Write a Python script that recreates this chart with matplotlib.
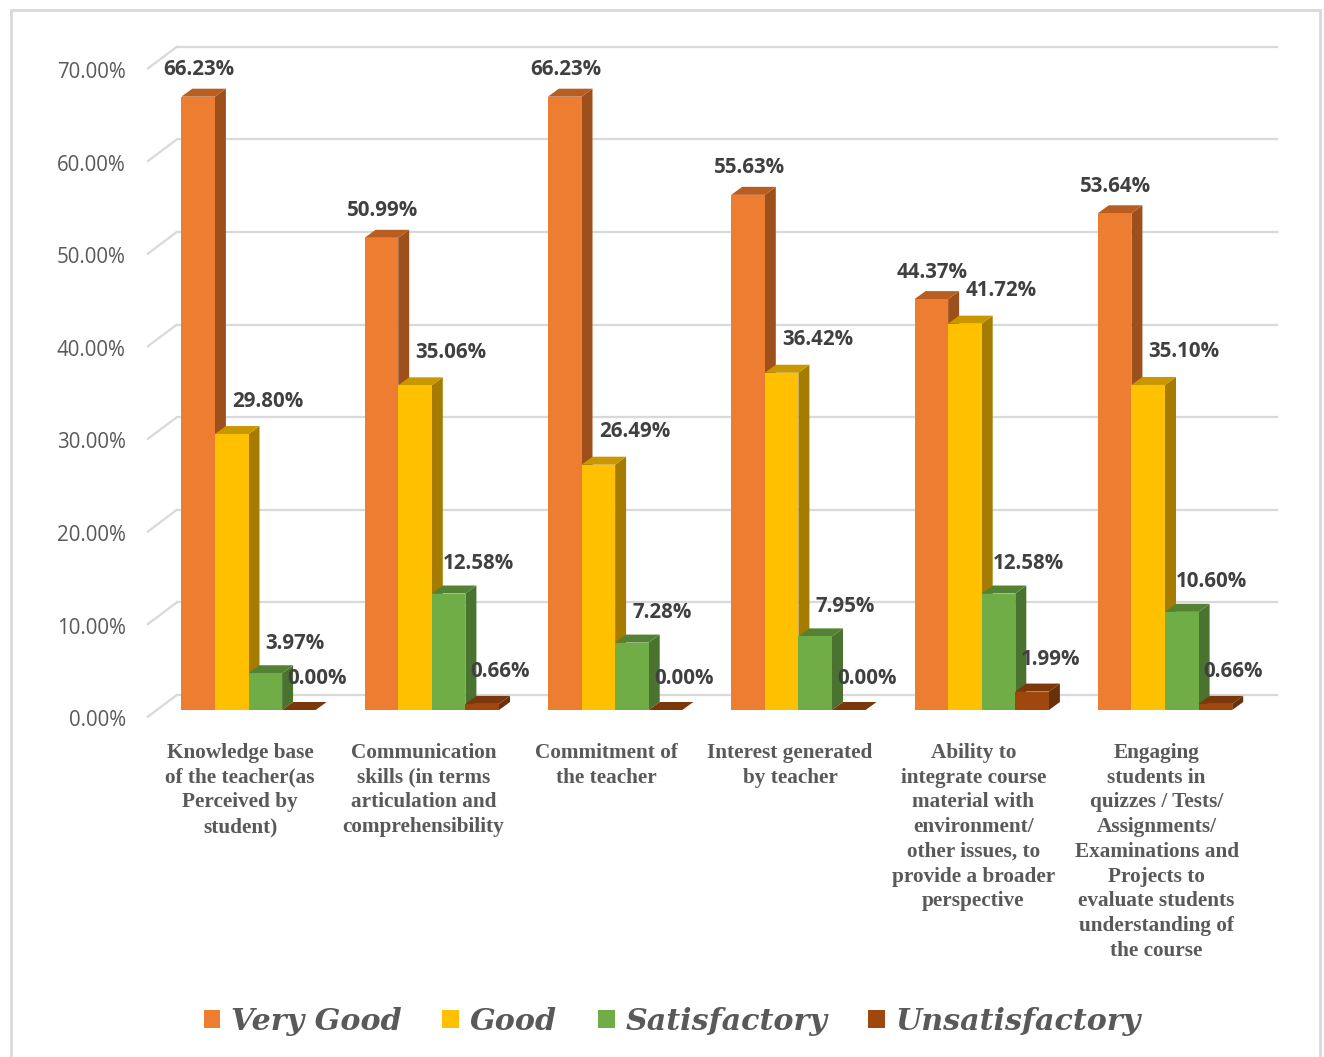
import matplotlib.pyplot as plt
from matplotlib.patches import Polygon, Patch, Rectangle

# data (percent)
categories = [
    "Knowledge base\nof the teacher(as\nPerceived by\nstudent)",
    "Communication\nskills (in terms\narticulation and\ncomprehensibility",
    "Commitment of\nthe teacher",
    "Interest generated\nby teacher",
    "Ability to\nintegrate course\nmaterial with\nenvironment/\nother issues, to\nprovide a broader\nperspective",
    "Engaging\nstudents in\nquizzes / Tests/\nAssignments/\nExaminations and\nProjects to\nevaluate students\nunderstanding of\nthe course",
]
series = ["Very Good", "Good", "Satisfactory", "Unsatisfactory"]
very_good = [66.23, 50.99, 66.23, 55.63, 44.37, 53.64]
good = [29.80, 35.06, 26.49, 36.42, 41.72, 35.10]
satisfactory = [3.97, 12.58, 7.28, 7.95, 12.58, 10.60]
unsatisfactory = [0.00, 0.66, 0.00, 0.00, 1.99, 0.66]
yticks = [0, 10, 20, 30, 40, 50, 60, 70]

values = [very_good, good, satisfactory, unsatisfactory]
# front, side, top colours
colors = [("#ED7D31", "#9E501C", "#B85E22"),
          ("#FFC000", "#A67C00", "#C99700"),
          ("#70AD47", "#4A7330", "#548235"),
          ("#9E480E", "#6A300A", "#7A380B")]
# label offsets in pixels per series
lab_off = [(1, 27), (36, 33), (30, 30), (18, 32)]

W, H = 1324, 1057
fig = plt.figure(figsize=(W / 100, H / 100), dpi=100)
ax = fig.add_axes([0, 0, 1, 1])
x0, x1 = -1.3557, 5.8674
y0, y1 = -37.47, 76.67
ax.set_xlim(x0, x1)
ax.set_ylim(y0, y1)
ax.axis("off")

px = (x1 - x0) / W   # data units per pixel (x)
py = (y1 - y0) / H   # data units per pixel (y)

grid_c = "#D9D9D9"
text_c = "#595959"

# outer frame
fig.patches.append(Rectangle((11 / W, -0.01), 1309 / W, 1 - 10 / H + 0.01,
                             transform=fig.transFigure, fill=False,
                             edgecolor=grid_c, lw=2))

# gridlines: back wall + left diagonal
fx, fy = -9 * px, -6.7 * py      # front edge offset
bx, by = 20 * px, 15 * py        # back wall offset
xl, xr = -0.5, 5.5
for t in yticks:
    ax.plot([xl + fx, xl + bx], [t + fy, t + by], color=grid_c, lw=1.6, zorder=1)
    ax.plot([xl + bx, xr + bx], [t + by, t + by], color=grid_c, lw=1.6, zorder=1)
    ax.text(xl + fx - 22 * px, t + fy - 4 * py, f"{t:.2f}%", ha="right", va="center",
            fontsize=14.8, color=text_c, family="Open Sans")

# pseudo 3D bars
w = 0.1833
dx, dy = 11 * px, 8 * py
z = 2
for i in range(len(categories)):
    for j, vals in enumerate(values):
        v = vals[i]
        xc = i + (j - 1.5) * w
        a, b = xc - w / 2, xc + w / 2
        front, side, top = colors[j]
        ax.add_patch(Polygon([(b, 0), (b + dx, dy), (b + dx, v + dy), (b, v)],
                             closed=True, fc=side, ec="none", zorder=z))
        ax.add_patch(Polygon([(a, v), (b, v), (b + dx, v + dy), (a + dx, v + dy)],
                             closed=True, fc=top, ec="none", zorder=z))
        ax.bar(xc, v, width=w, color=front, lw=0, zorder=z + 0.5)
        z += 1
        ox, oy = lab_off[j]
        ax.annotate(f"{v:.2f}%", (xc, v), xytext=(ox, oy), textcoords="offset pixels",
                    ha="center", va="center", fontsize=14.8, fontweight="bold",
                    color="#404040", family="Open Sans", zorder=100)

# category labels
for i, c in enumerate(categories):
    ax.text(i - 0.046, -3.55, c, ha="center", va="top", fontsize=15.3,
            fontweight="bold", color=text_c, family="Liberation Serif",
            linespacing=1.315)

handles = [Patch(facecolor=colors[j][0], edgecolor="none") for j in range(4)]
leg = ax.legend(handles, series, loc="center", bbox_to_anchor=(672 / W, 1 - 1021 / H),
                ncol=4, frameon=False, handlelength=0.56, handleheight=0.56,
                handletextpad=0.35, columnspacing=1.35,
                prop={"family": "DejaVu Serif", "weight": "bold",
                      "style": "italic", "size": 21.7})
for t in leg.get_texts():
    t.set_color(text_c)

fig.savefig("out.png", dpi=100)
